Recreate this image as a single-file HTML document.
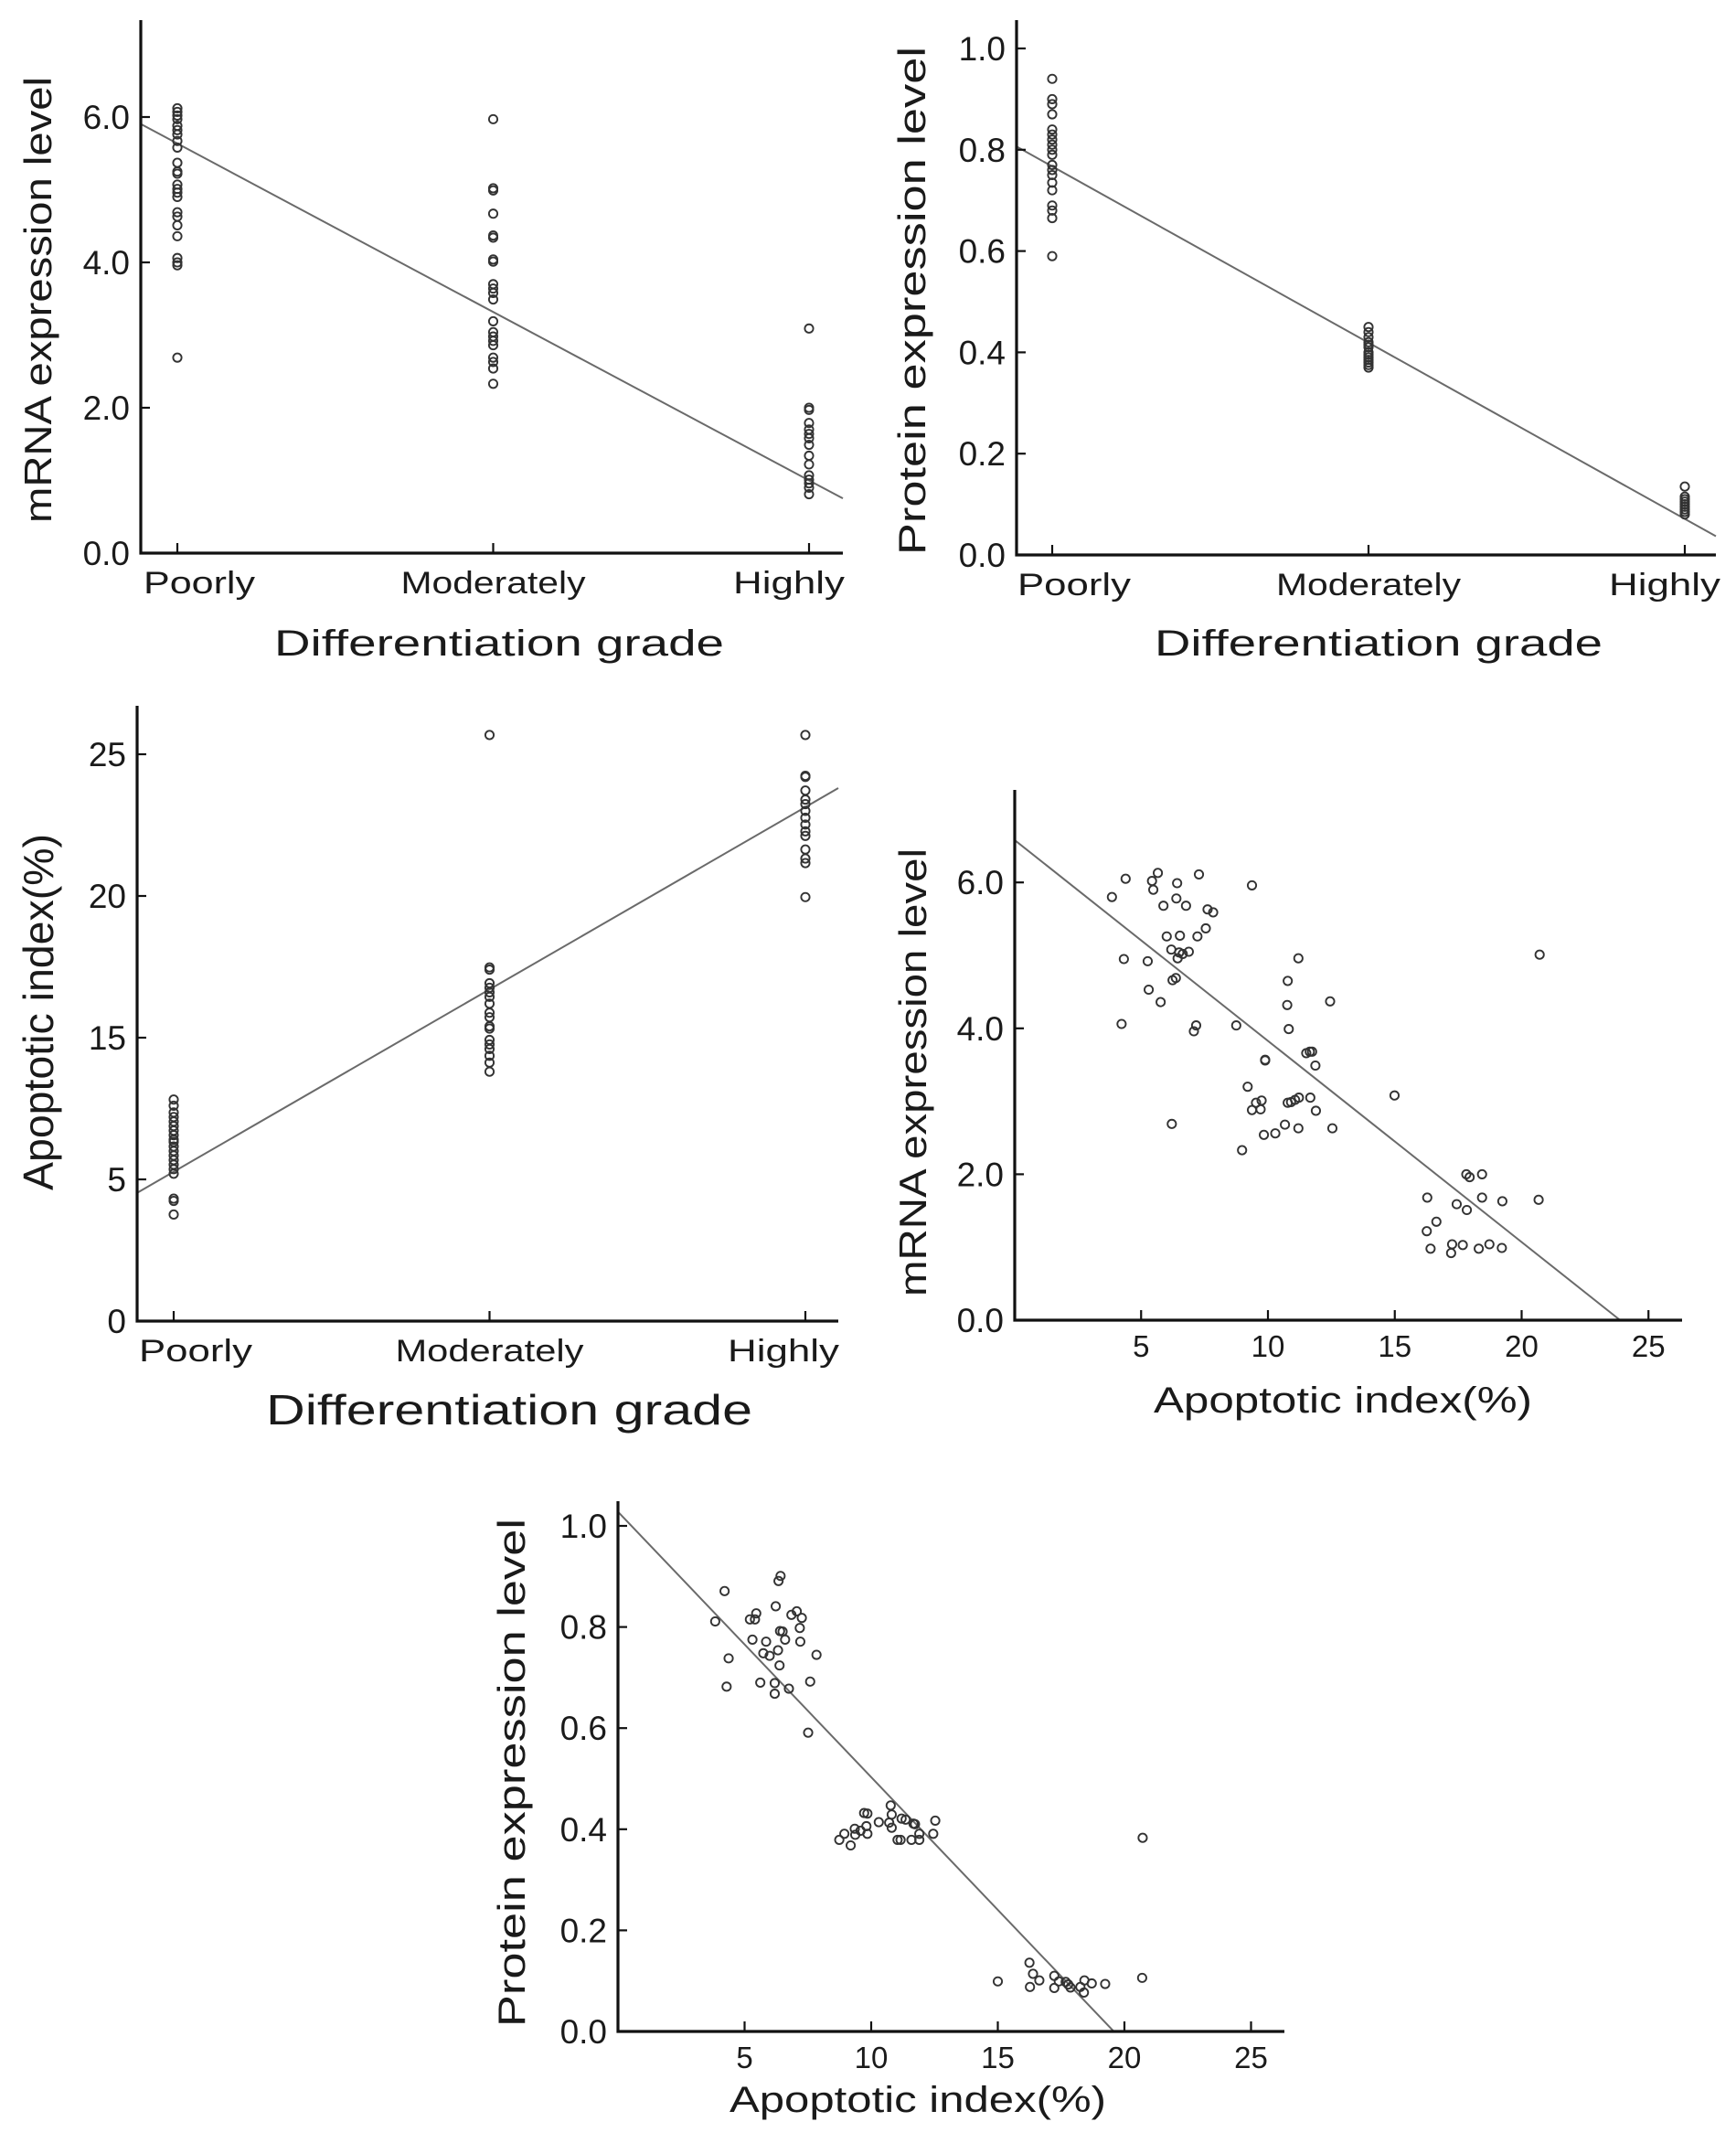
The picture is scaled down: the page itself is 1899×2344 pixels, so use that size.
<!DOCTYPE html>
<html><head><meta charset="utf-8"><style>
html,body{margin:0;padding:0;background:#fff}
svg{display:block}
text{font-family:"Liberation Sans","DejaVu Sans",sans-serif;fill:#1a1a1a}
</style></head><body>
<svg id="fig" width="1899" height="2344" viewBox="0 0 1899 2344" xmlns="http://www.w3.org/2000/svg"></svg>
<script>
// ---------- data ----------
const gradeCategories = ["Poorly","Moderately","Highly"];

const mrnaPoorly = [6.12,6.07,6.02,5.97,5.88,5.82,5.76,5.67,5.58,5.37,5.25,5.22,5.07,5.01,4.96,4.9,4.69,4.63,4.51,4.36,4.06,4.0,3.96,2.69];
const mrnaModerately = [5.97,5.02,4.99,4.67,4.37,4.34,4.04,4.01,3.7,3.64,3.58,3.49,3.19,3.04,2.98,2.92,2.86,2.69,2.63,2.54,2.33];
const mrnaHighly = [3.09,2.0,1.97,1.79,1.7,1.64,1.58,1.49,1.34,1.22,1.07,1.01,0.96,0.9,0.81];
const mrnaFit = [5.635,-2.314];
const mrnaTicks = [0,2,4,6];
const mrnaTickLabels = ["0.0","2.0","4.0","6.0"];

const protPoorly = [0.94,0.90,0.89,0.87,0.84,0.83,0.82,0.81,0.80,0.79,0.77,0.76,0.75,0.735,0.72,0.69,0.68,0.665,0.59];
const protModerately = [0.45,0.44,0.43,0.42,0.415,0.41,0.40,0.395,0.39,0.385,0.38,0.375,0.37];
const protHighly = [0.135,0.115,0.11,0.105,0.10,0.095,0.09,0.085,0.08];
const protFit = [0.767,-0.348];
const protTicks = [0,0.2,0.4,0.6,0.8,1.0];
const protTickLabels = ["0.0","0.2","0.4","0.6","0.8","1.0"];

const aiPoorly = [9.77,9.5,9.2,9.0,8.8,8.6,8.4,8.2,8.0,7.9,7.7,7.5,7.3,7.1,6.9,6.7,6.5,5.4,5.3,4.7];
const aiModerately = [25.85,15.6,15.5,14.9,14.7,14.5,14.3,14.0,13.6,13.4,13.0,12.9,12.4,12.2,12.0,11.7,11.4,11.0];
const aiHighly = [25.85,24.05,24.0,23.4,23.0,22.8,22.5,22.2,21.9,21.6,21.4,20.8,20.4,20.2,18.7];
const aiFit = [6.59,8.04];
const aiTicks = [0,6.25,12.5,18.75,25];
const aiTickLabels = ["0","5","15","20","25"];

const scatterMrnaX = [3.85,4.39,4.32,4.23,5.26,5.30,5.43,5.66,5.48,5.88,5.77,6.01,6.19,6.21,6.24,6.37,6.42,6.39,6.44,6.50,6.53,6.64,6.77,6.88,7.08,7.17,7.22,7.28,7.55,7.62,7.84,8.75,8.98,9.20,9.37,9.37,9.53,9.71,9.75,9.84,9.89,9.89,10.29,10.67,10.78,10.76,10.82,10.78,10.91,11.07,11.22,11.20,11.20,11.51,11.65,11.74,11.67,11.87,11.89,12.45,12.54,14.99,16.28,16.26,16.41,16.64,17.22,17.26,17.44,17.68,17.82,17.95,17.84,18.31,18.44,18.44,18.73,19.22,19.24,20.67,20.71];
const scatterMrnaY = [5.80,6.05,4.95,4.06,4.92,4.53,6.02,6.13,5.90,5.68,4.36,5.26,5.08,2.69,4.66,4.69,5.99,5.78,4.96,5.04,5.27,5.02,5.68,5.05,3.96,4.04,5.26,6.11,5.37,5.63,5.59,4.04,2.33,3.20,5.96,2.88,2.98,2.89,3.01,2.54,3.57,3.56,2.56,2.68,4.65,4.32,3.99,2.98,2.99,3.02,3.05,4.96,2.63,3.66,3.68,3.68,3.05,3.49,2.87,4.37,2.63,3.08,1.68,1.22,0.98,1.35,0.92,1.04,1.59,1.03,2.00,1.96,1.51,0.98,2.00,1.68,1.04,0.99,1.63,1.65,5.01];
const scatterMrnaFit = [6.58,-0.2755];
const apoXTicks = [5,10,15,20,25];

const scatterProtX = [3.84,4.21,4.37,4.29,5.21,5.31,5.46,5.41,5.62,5.74,5.85,5.99,6.19,6.19,6.23,6.32,6.38,6.34,6.42,6.40,6.50,6.60,6.75,6.85,7.06,7.18,7.20,7.26,7.59,7.84,7.51,8.74,8.94,9.19,9.35,9.37,9.58,9.72,9.85,9.85,9.81,10.30,10.71,10.77,10.81,10.81,11.04,11.16,11.20,11.36,11.59,11.67,11.73,11.90,11.90,12.45,12.53,15.0,16.25,16.39,16.27,16.64,17.23,17.23,17.41,17.68,17.78,17.87,18.26,18.40,18.42,18.71,19.24,20.70,20.72];
const scatterProtY = [0.811,0.871,0.738,0.682,0.815,0.775,0.827,0.815,0.690,0.748,0.771,0.743,0.689,0.668,0.841,0.754,0.724,0.891,0.901,0.792,0.791,0.775,0.678,0.824,0.831,0.798,0.771,0.818,0.692,0.745,0.591,0.379,0.391,0.368,0.401,0.389,0.397,0.432,0.431,0.391,0.406,0.414,0.413,0.447,0.429,0.403,0.379,0.379,0.421,0.419,0.379,0.411,0.410,0.379,0.391,0.391,0.417,0.099,0.136,0.114,0.088,0.101,0.110,0.086,0.099,0.098,0.093,0.087,0.088,0.077,0.101,0.095,0.094,0.106,0.383];
const scatterProtFit = [1.028,-0.0525];

// ---------- drawing ----------
const NS = "http://www.w3.org/2000/svg";
const svg = document.getElementById("fig");
function mk(tag, attrs, parent){
  const e = document.createElementNS(NS, tag);
  for (const k in attrs) e.setAttribute(k, attrs[k]);
  (parent||svg).appendChild(e);
  return e;
}
function txt(parent, s, x, y, size, anchor, len){
  const t = mk("text", {x:x, y:y, "font-size":size, "text-anchor":anchor||"middle"}, parent);
  if (len){ t.setAttribute("textLength", len); t.setAttribute("lengthAdjust","spacingAndGlyphs"); }
  t.textContent = s;
  return t;
}

function drawPanel(cfg){
  const g = mk("g", {});
  
  
  const yS = v => cfg.y0 - (v - 0) * cfg.yPx;
  const xS = cfg.cat ? (i => cfg.c0 + i * cfg.cStep) : (v => cfg.x0 + v * cfg.xPx);
  const line = mk("line", {
    x1: cfg.ax, y1: yS(cfg.fit[0] + cfg.fit[1] * cfg.lx0),
    x2: cfg.lx1px, y2: yS(cfg.fit[0] + cfg.fit[1] * cfg.lx1),
    stroke:"#6a6a6a", "stroke-width":2
  }, g);
  
  
  const pts = mk("g", {}, g);
  
  
  cfg.series.forEach(s => {
    s.ys.forEach((v, k) => {
      const cx = cfg.cat ? xS(s.cat) : xS(s.xs[k]);
      const c = mk("circle", {cx:cx, cy:yS(v), r:4.6, fill:"none", stroke:"#333", "stroke-width":1.9}, pts);
      
      
    });
  });
  const ax = mk("path", {d:`M${cfg.ax},${cfg.top} V${cfg.y0} H${cfg.xEnd}`, fill:"none", stroke:"#111", "stroke-width":3.2}, g);
  
  
  cfg.yTicks.forEach((v, i) => {
    const y = yS(v);
    if (v !== cfg.yTicks[0]) {
      const t = mk("line", {x1:cfg.ax, x2:cfg.ax+10, y1:y, y2:y, stroke:"#111", "stroke-width":2.2}, g);
      
      
    }
    const l = txt(g, cfg.yLabels[i], cfg.ax - 12, y + 13, 37, "end");
    
    
  });
  if (cfg.cat){
    gradeCategories.forEach((c, i) => {
      const x = xS(i);
      const t = mk("line", {x1:x, x2:x, y1:cfg.y0, y2:cfg.y0-11, stroke:"#111", "stroke-width":2.2}, g);
      
      
      const l = txt(g, c, x + cfg.catOff[i], cfg.y0 + 44, 34, "middle", cfg.catLen[i]);
      
      
    });
  } else {
    apoXTicks.forEach(v => {
      const x = xS(v);
      const t = mk("line", {x1:x, x2:x, y1:cfg.y0, y2:cfg.y0-11, stroke:"#111", "stroke-width":2.2}, g);
      
      
      const l = txt(g, String(v), x, cfg.y0 + 40, 33, "middle");
      
      
    });
  }
  const xt = txt(g, cfg.xTitle, cfg.xtX, cfg.xtY, cfg.xtSize, "middle", cfg.xtLen);
  
  
  const yt = txt(g, cfg.yTitle, 0, 0, cfg.ytSize, "middle", cfg.ytLen);
  yt.setAttribute("transform", `translate(${cfg.ytX},${cfg.ytY}) rotate(-90)`);
  
  
}

drawPanel({name:"mrna-by-grade-panel", cat:true, ax:154, top:22, y0:605, xEnd:922, yPx:79.5,
  c0:194, cStep:345.5, catOff:[24,0,-22], catLen:[122,202,122],
  fit:mrnaFit, lx0:-0.116, lx1:2.11, lx1px:922,
  series:[{cat:0, ys:mrnaPoorly},{cat:1, ys:mrnaModerately},{cat:2, ys:mrnaHighly}],
  yTicks:mrnaTicks, yLabels:mrnaTickLabels,
  xTitle:"Differentiation grade", xtX:546, xtY:717, xtSize:40, xtLen:492,
  yTitle:"mRNA expression level", ytX:56, ytY:328, ytSize:42, ytLen:488});

drawPanel({name:"protein-by-grade-panel", cat:true, ax:1112, top:22, y0:607, xEnd:1877, yPx:554,
  c0:1151, cStep:346, catOff:[24,0,-22], catLen:[124,202,122],
  fit:protFit, lx0:-0.113, lx1:2.098, lx1px:1877,
  series:[{cat:0, ys:protPoorly},{cat:1, ys:protModerately},{cat:2, ys:protHighly}],
  yTicks:protTicks, yLabels:protTickLabels,
  xTitle:"Differentiation grade", xtX:1508, xtY:717, xtSize:40, xtLen:490,
  yTitle:"Protein expression level", ytX:1012, ytY:329, ytSize:42, ytLen:556});

drawPanel({name:"apoptotic-by-grade-panel", cat:true, ax:150, top:772, y0:1445, xEnd:917, yPx:24.8,
  c0:190, cStep:345.5, catOff:[24,0,-24], catLen:[124,206,122],
  fit:aiFit, lx0:-0.116, lx1:2.104, lx1px:917,
  series:[{cat:0, ys:aiPoorly},{cat:1, ys:aiModerately},{cat:2, ys:aiHighly}],
  yTicks:aiTicks, yLabels:aiTickLabels,
  xTitle:"Differentiation grade", xtX:557, xtY:1558, xtSize:46, xtLen:532,
  yTitle:"Apoptotic index(%)", ytX:58, ytY:1107, ytSize:46, ytLen:390});

drawPanel({name:"mrna-vs-apoptotic-panel", cat:false, ax:1110, top:864, y0:1444, xEnd:1840, yPx:79.8,
  x0:1109.5, xPx:27.75,
  fit:scatterMrnaFit, lx0:0, lx1:23.9, lx1px:1109.5+23.9*27.75,
  series:[{xs:scatterMrnaX, ys:scatterMrnaY}],
  yTicks:mrnaTicks, yLabels:mrnaTickLabels,
  xTitle:"Apoptotic index(%)", xtX:1469, xtY:1545, xtSize:40, xtLen:414,
  yTitle:"mRNA expression level", ytX:1013, ytY:1173, ytSize:42, ytLen:490});

drawPanel({name:"protein-vs-apoptotic-panel", cat:false, ax:676, top:1642, y0:2222, xEnd:1405, yPx:553,
  x0:676, xPx:27.7,
  fit:scatterProtFit, lx0:0, lx1:19.58, lx1px:676+19.58*27.7,
  series:[{xs:scatterProtX, ys:scatterProtY}],
  yTicks:protTicks, yLabels:protTickLabels,
  xTitle:"Apoptotic index(%)", xtX:1004, xtY:2310, xtSize:40, xtLen:412,
  yTitle:"Protein expression level", ytX:574, ytY:1939, ytSize:42, ytLen:556});
</script>
</body></html>
